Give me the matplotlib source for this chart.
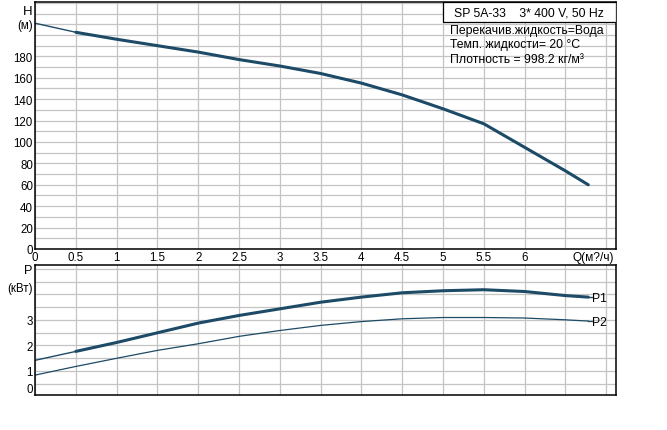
import matplotlib
matplotlib.use("Agg")
import matplotlib.pyplot as plt
import numpy as np
from matplotlib.patches import Rectangle

plt.rcParams['font.family'] = ['Liberation Sans', 'DejaVu Sans']

# ---- data ----
Q = [0, 0.5, 1, 1.5, 2, 2.5, 3, 3.5, 4, 4.5, 5, 5.5, 6, 6.5, 6.78]
H = [211, 202.5, 196, 190, 184, 177, 171, 164, 155, 144, 131, 117, 95, 73, 60]
P1 = [1.41, 1.76, 2.11, 2.49, 2.87, 3.17, 3.43, 3.69, 3.89, 4.06, 4.14, 4.18, 4.11, 3.95, 3.89]
P2 = [0.83, 1.17, 1.49, 1.80, 2.06, 2.35, 2.58, 2.78, 2.93, 3.04, 3.09, 3.09, 3.07, 3.00, 2.95]

x_ticks = [0, 0.5, 1, 1.5, 2, 2.5, 3, 3.5, 4, 4.5, 5, 5.5, 6, 6.5, 7]
x_labels = ['0', '0.5', '1', '1.5', '2', '2.5', '3', '3.5', '4', '4.5', '5', '5.5', '6', '', '']
h_ticks = list(range(0, 240, 10))
h_labels = [str(v) if (v % 20 == 0 and v <= 180) else '' for v in h_ticks]
p_ticks = [0.5, 1, 1.5, 2, 2.5, 3, 3.5, 4, 4.5, 5]
p_labels = ['', '1', '', '2', '', '3', '', '', '', '']

title_text = "SP 5A-33    3* 400 V, 50 Hz"
info_lines = ["Перекачив.жидкость=Вода", "Темп. жидкости= 20 °C", "Плотность = 998.2 кг/м³"]

color = '#1d4a66'
grid_c = '#c4c4c4'
fs = 8.3
fs_info = 8.8

W, Hpx = 667, 431
fig = plt.figure(figsize=(W / 100, Hpx / 100), dpi=100)
fig.patch.set_facecolor('white')

def frac(l, t, r, b):
    return [l / W, 1 - b / Hpx, (r - l) / W, (b - t) / Hpx]

ax1 = fig.add_axes(frac(35, 3, 615.7, 250))
ax2 = fig.add_axes(frac(35, 266, 615.7, 396))

for ax in (ax1, ax2):
    ax.set_xlim(0, 7.116)
    ax.set_xticks(x_ticks)
    ax.grid(True, color=grid_c, lw=0.9)
    ax.set_axisbelow(True)
    ax.tick_params(length=0, labelsize=fs, pad=1.5)
    for s in ax.spines.values():
        s.set_linewidth(1.1)
        s.set_color('black')

# ---- top: head ----
ax1.set_ylim(0, 230.8)
ax1.set_yticks(h_ticks)
ax1.set_yticklabels(h_labels)
ax1.set_xticklabels(x_labels)
ax1.plot(Q, H, color=color, lw=1.0, solid_capstyle='round')
ax1.plot(Q[1:], H[1:], color=color, lw=2.2, solid_capstyle='round')
ax1.text(-0.03, 222, 'H', ha='right', va='center', fontsize=fs + 1.2)
ax1.text(-0.03, 209, '(м)', ha='right', va='center', fontsize=fs)
ax1.text(7.09, -1.5, 'Q(м?/ч)', ha='right', va='top', fontsize=fs + 0.3)

# info box
ax1.add_patch(Rectangle((0.7026, 0.92), 0.2974, 0.08, transform=ax1.transAxes,
                        facecolor='white', edgecolor='black', lw=0.9, zorder=3))
ax1.text(0.851, 0.958, title_text, transform=ax1.transAxes, ha='center', va='center',
         fontsize=fs_info, zorder=4)
for i, line in enumerate(info_lines):
    ax1.text(0.715, 0.887 - i * 0.059, line, transform=ax1.transAxes, ha='left', va='center',
             fontsize=fs_info, zorder=4)

# ---- bottom: power ----
ax2.set_ylim(0.05, 5.15)
ax2.set_yticks(p_ticks)
ax2.set_yticklabels(p_labels)
ax2.set_xticklabels([])
ax2.plot(Q, P2, color=color, lw=0.9)
ax2.plot(Q, P1, color=color, lw=1.0)
ax2.plot(Q[1:], P1[1:], color=color, lw=2.2, solid_capstyle='round')
ax2.text(-0.03, 0.29, '0', ha='right', va='center', fontsize=fs)
ax2.text(-0.03, 4.95, 'P', ha='right', va='center', fontsize=fs + 0.8)
ax2.text(-0.03, 4.25, '(кВт)', ha='right', va='center', fontsize=fs)
ax2.plot([Q[-1], 6.82], [P1[-1], P1[-1]], color=color, lw=1.0)
ax2.plot([Q[-1], 6.82], [P2[-1], P2[-1]], color=color, lw=0.9)
ax2.text(6.83, P1[-1] - 0.05, 'P1', ha='left', va='center', fontsize=fs + 0.5)
ax2.text(6.83, P2[-1] - 0.05, 'P2', ha='left', va='center', fontsize=fs + 0.5)

fig.savefig('out.png', dpi=100, facecolor='white')
